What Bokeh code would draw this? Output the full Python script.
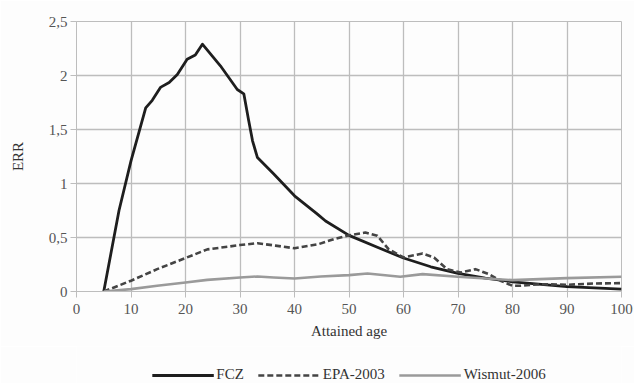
from bokeh.plotting import figure
from bokeh.layouts import column
from bokeh.models import Legend, LegendItem, FixedTicker, CustomJSTickFormatter, Range1d
from bokeh.embed import file_html
from bokeh.resources import INLINE

age_fcz = [5, 7.8, 10, 12.7, 13.9, 15.4, 17, 18.5, 20.3, 21.8, 23.1, 26.4, 29.5, 30.7, 31.6, 32.3, 33.2,
           36.2, 40, 44.2, 45.7, 50, 55.2, 60, 65, 70, 75, 80, 90, 100]
err_fcz = [0, 0.75, 1.21, 1.70, 1.77, 1.89, 1.935, 2.01, 2.15, 2.19, 2.29, 2.09, 1.87, 1.83, 1.58, 1.395, 1.24,
           1.087, 0.886, 0.717, 0.653, 0.52, 0.41, 0.31, 0.229, 0.167, 0.124, 0.09, 0.046, 0.022]

age_epa = [5, 10, 14.8, 20, 24, 30, 33.2, 36.5, 40, 44.5, 47.2, 50, 53, 55.2, 57.3, 60, 63.5, 65.6, 68,
           70.5, 73.2, 75.7, 77.8, 80, 81.5, 85.2, 90, 95, 100]
err_epa = [0, 0.10, 0.207, 0.31, 0.39, 0.43, 0.447, 0.425, 0.40, 0.44, 0.485, 0.52, 0.546, 0.516, 0.39,
           0.315, 0.352, 0.315, 0.207, 0.176, 0.207, 0.16, 0.10, 0.053, 0.053, 0.068, 0.062, 0.074, 0.078]

age_wis = [5, 10, 14.8, 20, 24, 30, 33.2, 36.2, 40, 44.8, 50, 53.4, 59.4, 63.5, 70, 80, 90, 100]
err_wis = [0, 0.022, 0.053, 0.083, 0.108, 0.13, 0.139, 0.13, 0.12, 0.139, 0.152, 0.167, 0.136, 0.161,
           0.136, 0.105, 0.124, 0.136]

x_ticks = [0, 10, 20, 30, 40, 50, 60, 70, 80, 90, 100]
y_ticks = [0, 0.5, 1, 1.5, 2, 2.5]
series_names = ["FCZ", "EPA-2003", "Wismut-2006"]

FONT = "Liberation Serif"
GRID = "#bdbdbd"
BG = "#fdfdfd"
STYLES = [dict(line_color="#1e1e1e", line_width=2.8, line_join="round"),
          dict(line_color="#444444", line_width=2.6, line_dash="6 3", line_join="round"),
          dict(line_color="#9a9a9a", line_width=2.6, line_join="round")]

p = figure(width=634, height=346, output_backend="svg", toolbar_location=None,
           x_range=Range1d(0, 100), y_range=Range1d(0, 2.5),
           min_border_left=76, min_border_right=13, min_border_top=21, min_border_bottom=55)
p.outline_line_color = GRID
p.background_fill_color = BG
p.border_fill_color = BG

r1 = p.line(age_fcz, err_fcz, **STYLES[0])
r2 = p.line(age_epa, err_epa, **STYLES[1])
r3 = p.line(age_wis, err_wis, **STYLES[2])

p.xaxis.ticker = FixedTicker(ticks=x_ticks)
p.yaxis.ticker = FixedTicker(ticks=y_ticks)
p.yaxis.formatter = CustomJSTickFormatter(code="return tick.toString().replace('.', ',');")

for ax in (p.xaxis[0], p.yaxis[0]):
    ax.axis_line_color = GRID
    ax.major_tick_line_color = GRID
    ax.major_tick_out = 6
    ax.major_tick_in = 0
    ax.minor_tick_line_color = None
    ax.major_label_text_font = FONT
    ax.major_label_text_font_size = "15px"
    ax.major_label_text_color = "#555555"
    ax.axis_label_text_font = FONT
    ax.axis_label_text_font_size = "15px"
    ax.axis_label_text_font_style = "normal"
    ax.axis_label_text_color = "#333333"

p.xaxis.axis_label = "Attained age"
p.yaxis.axis_label = "ERR"
p.xaxis.major_label_standoff = 6
p.xaxis.axis_label_standoff = 6
p.yaxis.major_label_standoff = 3
p.yaxis.axis_label_standoff = 20

p.xgrid.grid_line_color = GRID
p.ygrid.grid_line_color = GRID
p.xgrid.grid_line_width = 1.3
p.ygrid.grid_line_width = 1.3

# legend strip below the chart (sample lines sit outside its visible range)
q = figure(width=634, height=37, output_backend="svg", toolbar_location=None,
           x_range=Range1d(0, 1), y_range=Range1d(0, 1),
           min_border_left=0, min_border_right=0, min_border_top=0, min_border_bottom=0)
q.axis.visible = False
q.grid.visible = False
q.outline_line_color = None
q.background_fill_color = BG
q.border_fill_color = BG
l1 = q.line([-5, -4], [-5, -4], **STYLES[0])
l2 = q.line([-5, -4], [-5, -4], **STYLES[1])
l3 = q.line([-5, -4], [-5, -4], **STYLES[2])

legend = Legend(items=[LegendItem(label=series_names[0], renderers=[l1]),
                       LegendItem(label=series_names[1], renderers=[l2]),
                       LegendItem(label=series_names[2], renderers=[l3])],
                orientation="horizontal", location="bottom_center")
legend.glyph_width = 62
legend.glyph_height = 16
legend.label_standoff = 3
legend.spacing = 14
legend.padding = 0
legend.margin = 0
legend.border_line_color = None
legend.background_fill_alpha = 0
legend.label_text_font = FONT
legend.label_text_font_size = "15px"
legend.label_text_color = "#333333"
q.add_layout(legend, "center")

layout = column(p, q, spacing=0)
open("out.html", "w").write(file_html(layout, INLINE))
